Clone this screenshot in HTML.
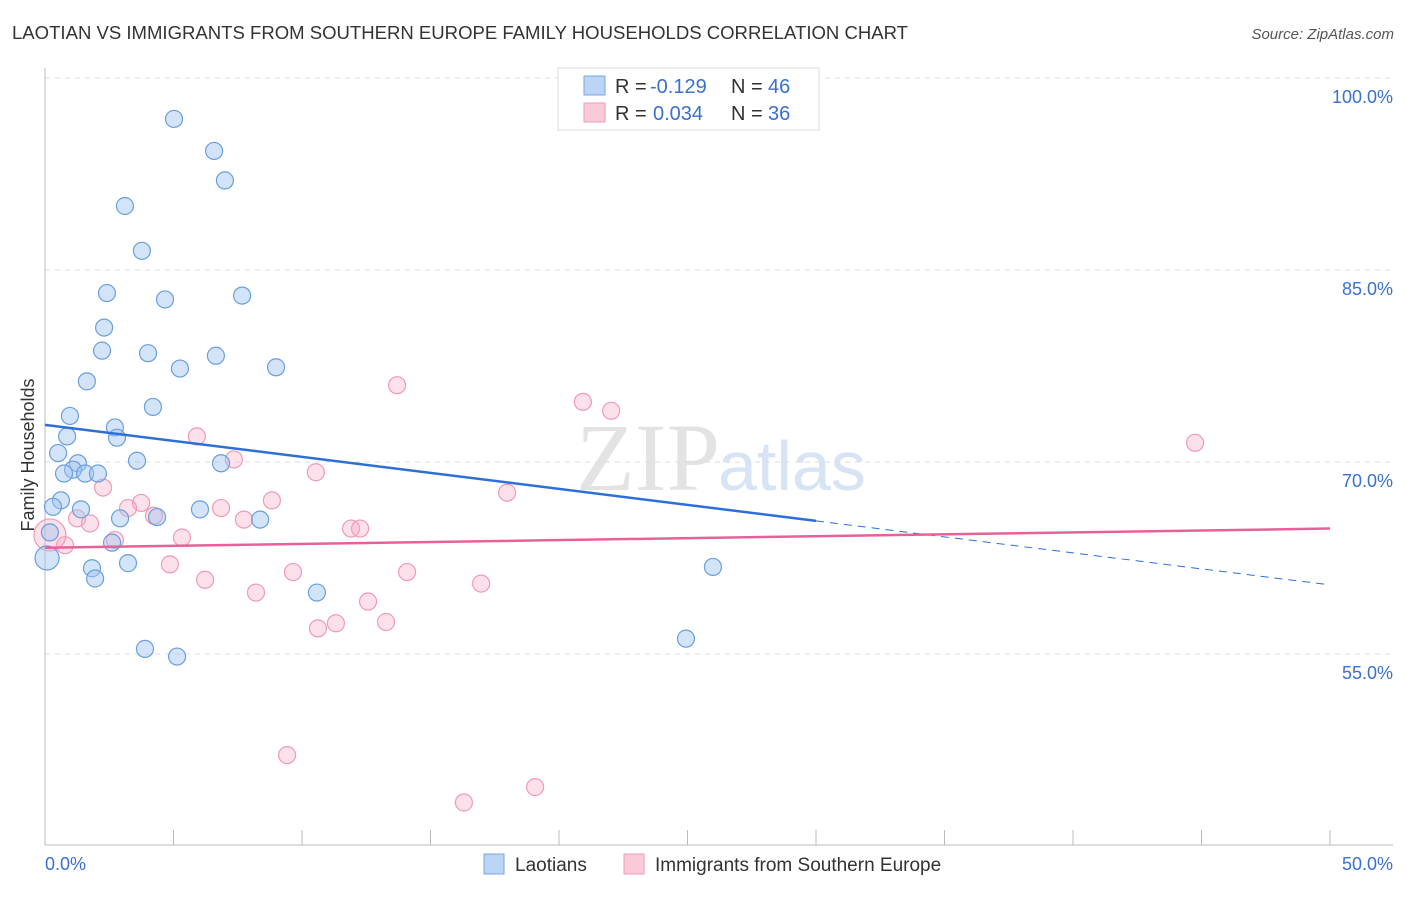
<!DOCTYPE html>
<html><head><meta charset="utf-8"><style>
body{margin:0;background:#fff;font-family:"Liberation Sans",sans-serif}
</style></head><body>
<svg width="1406" height="892" font-family="Liberation Sans, sans-serif">
<text x="12" y="39" font-size="18" fill="#333" textLength="896" lengthAdjust="spacingAndGlyphs">LAOTIAN VS IMMIGRANTS FROM SOUTHERN EUROPE FAMILY HOUSEHOLDS CORRELATION CHART</text>
<text x="1394" y="39" font-size="15" fill="#555" font-style="italic" text-anchor="end">Source: ZipAtlas.com</text>
<text x="720" y="490" font-size="96" fill="#e3e3e3" text-anchor="end" font-family="Liberation Serif, serif">ZIP</text>
<text x="718" y="490" font-size="70" fill="#d6e4f5">atlas</text>
<g id="grid"></g>
<g id="axes"></g>
<g id="pts"></g>
<g id="trend"></g>
<text x="-455" y="34" transform="rotate(-90)" font-size="18" fill="#333" text-anchor="middle">Family Households</text>
<g>
<rect x="558" y="68" width="261" height="62" fill="#fff" stroke="#ddd"/>
<rect x="584" y="76" width="21" height="19" fill="#bcd4f5" stroke="#7aa6e6"/>
<rect x="584" y="103" width="21" height="19" fill="#fbcad8" stroke="#f09ab4"/>
<text y="93" font-size="20" fill="#333"><tspan x="615">R =</tspan><tspan x="650" fill="#3a70d0">-0.129</tspan><tspan x="731">N =</tspan><tspan x="768" fill="#3a70d0">46</tspan></text>
<text y="120" font-size="20" fill="#333"><tspan x="615">R =</tspan><tspan x="653" fill="#3a70d0">0.034</tspan><tspan x="731">N =</tspan><tspan x="768" fill="#3a70d0">36</tspan></text>
</g>
<g>
<rect x="484" y="854" width="20" height="20" fill="#bcd4f5" stroke="#7aa6e6"/>
<text x="515" y="871" font-size="19" fill="#333">Laotians</text>
<rect x="624" y="854" width="20" height="20" fill="#fbcad8" stroke="#f09ab4"/>
<text x="655" y="871" font-size="19" fill="#333">Immigrants from Southern Europe</text>
</g>
</svg>
<script>
const blueX=[5.02,6.58,7.00,3.11,3.77,2.41,4.67,7.67,2.30,2.22,4.01,6.65,5.25,8.99,1.63,4.20,0.97,2.72,2.80,0.86,0.51,1.28,3.58,6.85,1.09,0.74,1.56,2.06,0.62,0.31,1.40,6.03,2.92,4.36,8.37,0.19,2.61,3.23,1.83,1.95,10.58,3.89,5.14,24.94,25.99,0.08];
const blueY=[96.8,94.3,92.0,90.0,86.5,83.2,82.7,83.0,80.5,78.7,78.5,78.3,77.3,77.4,76.3,74.3,73.6,72.7,71.9,72.0,70.7,69.9,70.1,69.9,69.4,69.1,69.1,69.1,67.0,66.5,66.3,66.3,65.6,65.7,65.5,64.5,63.7,62.1,61.7,60.9,59.8,55.4,54.8,56.2,61.8,62.5];
const pinkX=[13.70,20.93,22.03,44.75,5.91,7.35,10.54,2.26,17.98,8.83,3.74,3.23,6.85,1.25,1.75,4.24,7.74,11.91,12.26,5.33,2.72,0.78,0.19,4.86,6.23,9.65,14.09,16.97,8.21,12.57,11.32,10.62,13.27,9.42,16.30,19.07];
const pinkY=[76.0,74.7,74.0,71.5,72.0,70.2,69.2,68.0,67.6,67.0,66.8,66.4,66.4,65.6,65.2,65.8,65.5,64.8,64.8,64.1,63.9,63.5,64.3,62.0,60.8,61.4,61.4,60.5,59.8,59.1,57.4,57.0,57.5,47.1,43.4,44.6];
const yTicks=[100,85,70,55];
const yTickLabels=["100.0%","85.0%","70.0%","55.0%"];
const blueTrend=[72.9,60.4];
const pinkTrend=[63.3,64.8];
const xs=v=>45+v*1285/50;
const ys=v=>78+(100-v)*12.8;
const NS="http://www.w3.org/2000/svg";
function mk(parent,tag,attrs){const e=document.createElementNS(NS,tag);for(const k in attrs)e.setAttribute(k,attrs[k]);document.getElementById(parent).appendChild(e);return e;}
yTicks.forEach((t,i)=>{
 const l=mk('grid','line',{x1:45,x2:1393,y1:ys(t),y2:ys(t),stroke:'#ddd','stroke-dasharray':'5,5'});
 
 
 const tx=mk('grid','text',{x:1393,y:ys(t)+25,'font-size':18,fill:'#3a70d0','text-anchor':'end'});
 tx.textContent=yTickLabels[i];
 
 
});
let a=mk('axes','line',{x1:45,x2:45,y1:68,y2:845,stroke:'#bbb'});


a=mk('axes','line',{x1:45,x2:1393,y1:845,y2:845,stroke:'#bbb'});


for(let i=0;i<=10;i++){
 const t=mk('axes','line',{x1:xs(i*5),x2:xs(i*5),y1:830,y2:845,stroke:'#bbb'});
 
 
}
let xl=mk('axes','text',{x:45,y:870,'font-size':18,fill:'#3a70d0'});xl.textContent='0.0%';


xl=mk('axes','text',{x:1393,y:870,'font-size':18,fill:'#3a70d0','text-anchor':'end'});xl.textContent='50.0%';


pinkX.forEach((x,i)=>{
 const c=mk('pts','circle',{cx:xs(x),cy:ys(pinkY[i]),r:i==22?16:8.5,fill:'rgba(248,170,195,0.35)',stroke:'#f09ab4','stroke-width':1.2});
 
 
});
blueX.forEach((x,i)=>{
 const c=mk('pts','circle',{cx:xs(x),cy:ys(blueY[i]),r:i==45?12:8.5,fill:'rgba(160,195,240,0.45)',stroke:'#6a9ee0','stroke-width':1.2});
 
 
});
const by=x=>blueTrend[0]+(blueTrend[1]-blueTrend[0])*x/50;
let l=mk('trend','line',{x1:xs(0),y1:ys(by(0)),x2:xs(30),y2:ys(by(30)),stroke:'#2d6fd8','stroke-width':2.5});


l=mk('trend','line',{x1:xs(30),y1:ys(by(30)),x2:xs(50),y2:ys(by(50)),stroke:'#2d6fd8','stroke-width':1,'stroke-dasharray':'8,6'});


l=mk('trend','line',{x1:xs(0),y1:ys(pinkTrend[0]),x2:xs(50),y2:ys(pinkTrend[1]),stroke:'#e8609a','stroke-width':2.5});


</script>
</body></html>
